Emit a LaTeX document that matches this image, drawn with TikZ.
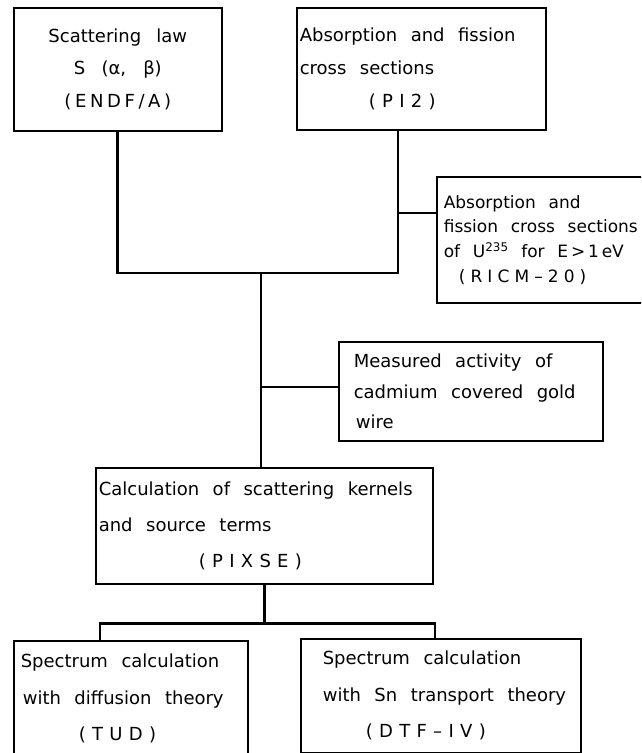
\documentclass[tikz,border=0pt]{standalone}
\usepackage{fontspec}
\setmainfont{DejaVu Sans}

\newcommand\code[2][35]{{\addfontfeature{LetterSpace=#1}#2}}
\newcommand\boxfont[2]{\fontsize{#1}{#2}\selectfont}

\begin{document}
\begin{tikzpicture}[x=1pt, y=-1pt,
  box/.style={draw, line width=1.6pt, anchor=north west, inner xsep=3pt, inner ysep=0pt, align=left,
    execute at begin node={\spaceskip=0.75em plus 0.1em\relax}},
  link/.style={line width=2.8pt}]
\path[use as bounding box, clip] (0,0) rectangle (641,753);

% input data
\node[box, font=\boxfont{18}{32.5}, text width=202pt, minimum width=208pt, minimum height=123pt, align=center] (law) at (13,7)
  {Scattering law\\S (α, β)\\\code[20]{(ENDF/A)}};
\node[box, font=\boxfont{18}{33}, text width=243pt, minimum width=249pt, minimum height=122pt] (pi2) at (296,7)
  {Absorption and fission\\cross sections\\\hspace*{69pt}\code{(PI2)}};
\node[box, font=\boxfont{17}{24.7}, text width=209pt, minimum width=215pt, minimum height=126pt] (ricm) at (436,176)
  {\hspace*{4pt}Absorption and\\\hspace*{4pt}fission cross sections\\\hspace*{4pt}of U\textsuperscript{235} for E\,>\,1\,eV\\\hspace*{19pt}\code[30]{(RICM–20)}};
\node[box, font=\boxfont{18}{30.5}, text width=258pt, minimum width=264pt, minimum height=99pt] (gold) at (338,341)
  {\hspace*{12pt}Measured activity of\\\hspace*{12pt}cadmium covered gold\\\hspace*{14pt}wire};

% kernels
\node[box, font=\boxfont{18}{36}, text width=331pt, minimum width=337pt, minimum height=116pt] (calc) at (95,467)
  {Calculation of scattering kernels\\and source terms\\\hspace*{100pt}\code{(PIXSE)}};

% spectrum codes
\node[box, font=\boxfont{18}{36.5}, text width=228pt, minimum width=234pt, minimum height=116pt] (tud) at (13,640)
  {\hspace*{4pt}Spectrum calculation\\\hspace*{6pt}with diffusion theory\\\hspace*{62pt}\code{(TUD)}};
\node[box, font=\boxfont{18}{36.5}, text width=274pt, minimum width=280pt, minimum height=114pt] (dtf) at (300,638)
  {\hspace*{19pt}Spectrum calculation\\\hspace*{19pt}with Sn transport theory\\\hspace*{62pt}\code{(DTF–IV)}};

% connectors
\coordinate (trunk) at (261,273);
\coordinate (pi2foot) at ([xshift=102pt]pi2.south west);
\draw[link] (law.south) |- (trunk) -| (pi2foot);
\coordinate (ricmin) at ([yshift=-37pt]ricm.north west);
\draw[link] (ricmin) -- (ricmin -| pi2foot);
\coordinate (goldin) at ([yshift=-46pt]gold.north west);
\draw[link] (goldin) -- (goldin -| trunk);
\draw[link] (trunk) -- (trunk |- calc.north);
\coordinate (fork) at ([yshift=-39pt]calc.south);
\coordinate (tudtop) at ([xshift=87pt]tud.north west);
\coordinate (dtftop) at ([xshift=135pt]dtf.north west);
\draw[link] (calc.south) -- (fork);
\draw[link] (tudtop) |- (fork) -| (dtftop);
\end{tikzpicture}
\end{document}
